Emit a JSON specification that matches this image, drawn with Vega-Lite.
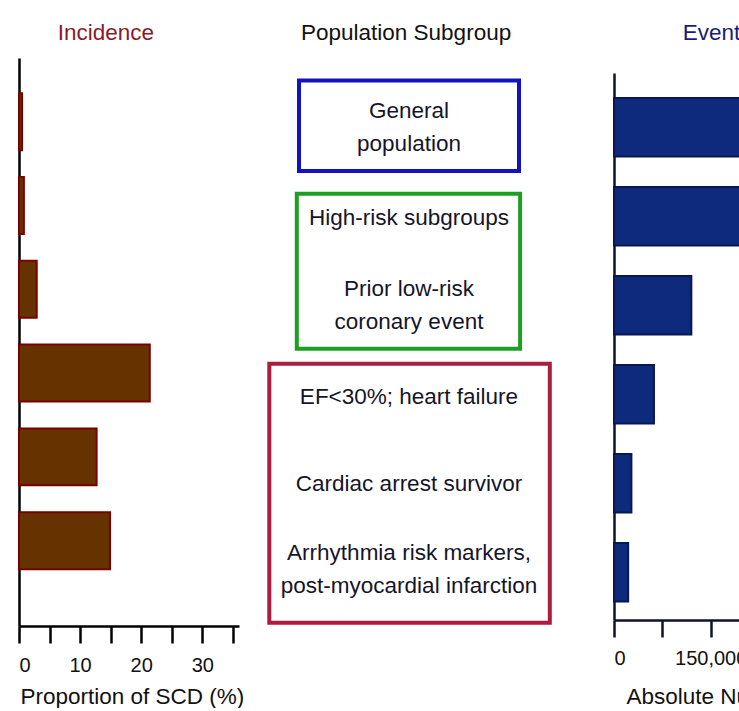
{
  "$schema": "https://vega.github.io/schema/vega-lite/v6.json",
  "background": "white",
  "padding": {"left": 17, "top": 22, "right": 0, "bottom": 0},
  "spacing": 10,
  "bounds": "flush",
  "datasets": {
    "rows": [
      {"subgroup": "General population", "incidence": 0.5, "events": 310000},
      {"subgroup": "High-risk subgroups", "incidence": 0.8, "events": 280000},
      {"subgroup": "Prior low-risk coronary event", "incidence": 2.9, "events": 120000},
      {"subgroup": "EF<30%; heart failure", "incidence": 21.4, "events": 62000},
      {"subgroup": "Cardiac arrest survivor", "incidence": 12.7, "events": 27000},
      {"subgroup": "Arrhythmia risk markers, post-myocardial infarction", "incidence": 14.9, "events": 22000}
    ],
    "boxes": [
      {"tier": "General population", "top": 0.0, "bottom": 1.08, "left": -1.0, "right": 1.0},
      {"tier": "High-risk subgroups", "top": 1.35, "bottom": 3.2, "left": -1.02, "right": 1.01},
      {"tier": "Highest-risk subgroups", "top": 3.38, "bottom": 6.47, "left": -1.27, "right": 1.28}
    ],
    "labels": [
      {"label": "General\npopulation", "u": 0.363},
      {"label": "High-risk subgroups", "u": 1.64},
      {"label": "Prior low-risk\ncoronary event", "u": 2.49},
      {"label": "EF<30%; heart failure", "u": 3.775},
      {"label": "Cardiac arrest survivor", "u": 4.81},
      {"label": "Arrhythmia risk markers,\npost-myocardial infarction", "u": 5.64}
    ]
  },
  "config": {
    "view": {"stroke": null},
    "font": "Liberation Sans",
    "title": {"font": "Liberation Sans", "fontSize": 22.5, "fontWeight": "normal", "offset": 13.5, "baseline": "alphabetic"},
    "axis": {
      "labelFont": "Liberation Sans",
      "titleFont": "Liberation Sans",
      "labelFontSize": 20,
      "titleFontSize": 22.5,
      "titleFontWeight": "normal",
      "labelColor": "#111111",
      "titleColor": "#111111",
      "grid": false
    }
  },
  "hconcat": [
    {
      "width": 220,
      "height": 568,
      "title": {"text": "Incidence", "color": "#8a1a2a", "anchor": "start", "dx": 40},
      "data": {"name": "rows"},
      "mark": {"type": "bar", "fill": "#663300", "stroke": "#7a0000", "strokeWidth": 2},
      "encoding": {
        "y": {
          "field": "subgroup", "type": "nominal", "sort": null,
          "scale": {"paddingInner": 0.32, "paddingOuter": 0.55, "align": 0.383},
          "axis": {"labels": false, "ticks": false, "title": null, "minExtent": 0, "domainColor": "#000000", "domainWidth": 2.5}
        },
        "x": {
          "field": "incidence", "type": "quantitative",
          "scale": {"domain": [0, 36], "nice": false},
          "axis": {
            "values": [0, 5, 10, 15, 20, 25, 30, 35],
            "labelExpr": "datum.value % 10 === 0 ? format(datum.value, 'd') : ''",
            "title": "Proportion of SCD (%)",
            "titleAnchor": "start", "titleAlign": "left", "titleBaseline": "alphabetic", "titleY": 77, "titleX": 1,
            "domainColor": "#000000", "domainWidth": 2.5,
            "tickColor": "#000000", "tickWidth": 2.5, "tickSize": 17,
            "labelBaseline": "alphabetic", "labelPadding": 28
          }
        }
      }
    },
    {
      "width": 355,
      "height": 568,
      "title": {"text": "Population Subgroup", "color": "#111111", "anchor": "start", "dx": 52},
      "layer": [
        {
          "data": {"name": "boxes"},
          "mark": {"type": "rect", "filled": false, "strokeWidth": 4},
          "encoding": {
            "x": {"field": "left", "type": "quantitative", "scale": {"domain": [-1.4545, 1.7727], "nice": false, "zero": false}, "axis": null},
            "x2": {"field": "right"},
            "y": {"field": "top", "type": "quantitative", "scale": {"domain": [-0.27, 6.51], "reverse": true, "nice": false, "zero": false}, "axis": null},
            "y2": {"field": "bottom"},
            "stroke": {
              "field": "tier", "type": "nominal",
              "scale": {"domain": ["General population", "High-risk subgroups", "Highest-risk subgroups"], "range": ["#1212c0", "#1f9e25", "#ad1c3c"]},
              "legend": null
            }
          }
        },
        {
          "data": {"name": "labels"},
          "mark": {"type": "text", "font": "Liberation Sans", "fontSize": 22.5, "lineBreak": "\n", "lineHeight": 33, "color": "#15152a", "baseline": "middle", "align": "center"},
          "encoding": {
            "x": {"datum": 0, "type": "quantitative"},
            "y": {"field": "u", "type": "quantitative"},
            "text": {"field": "label"}
          }
        }
      ]
    },
    {
      "width": 232,
      "height": 562,
      "title": {"text": "Events", "color": "#1a1a80", "anchor": "start", "dx": 70},
      "data": {"name": "rows"},
      "mark": {"type": "bar", "fill": "#0e2a7c", "stroke": "#081850", "strokeWidth": 2},
      "encoding": {
        "y": {
          "field": "subgroup", "type": "nominal", "sort": null,
          "scale": {"range": [15, 562], "paddingInner": 0.343, "paddingOuter": 0.244, "align": 0.575},
          "axis": {"labels": false, "ticks": false, "title": null, "minExtent": 0, "domainColor": "#101030", "domainWidth": 2.5}
        },
        "x": {
          "field": "events", "type": "quantitative",
          "scale": {"domain": [0, 360000], "nice": false},
          "axis": {
            "values": [0, 75000, 150000, 225000, 300000],
            "labelExpr": "datum.value % 150000 === 0 ? format(datum.value, ',') : ''",
            "title": "Absolute Number of Events/Year",
            "titleAnchor": "start", "titleAlign": "left", "titleBaseline": "alphabetic", "titleY": 83, "titleX": 12,
            "domainColor": "#101030", "domainWidth": 2.5,
            "tickColor": "#101030", "tickWidth": 2.5, "tickSize": 17,
            "labelBaseline": "alphabetic", "labelPadding": 27
          }
        }
      }
    }
  ]
}
